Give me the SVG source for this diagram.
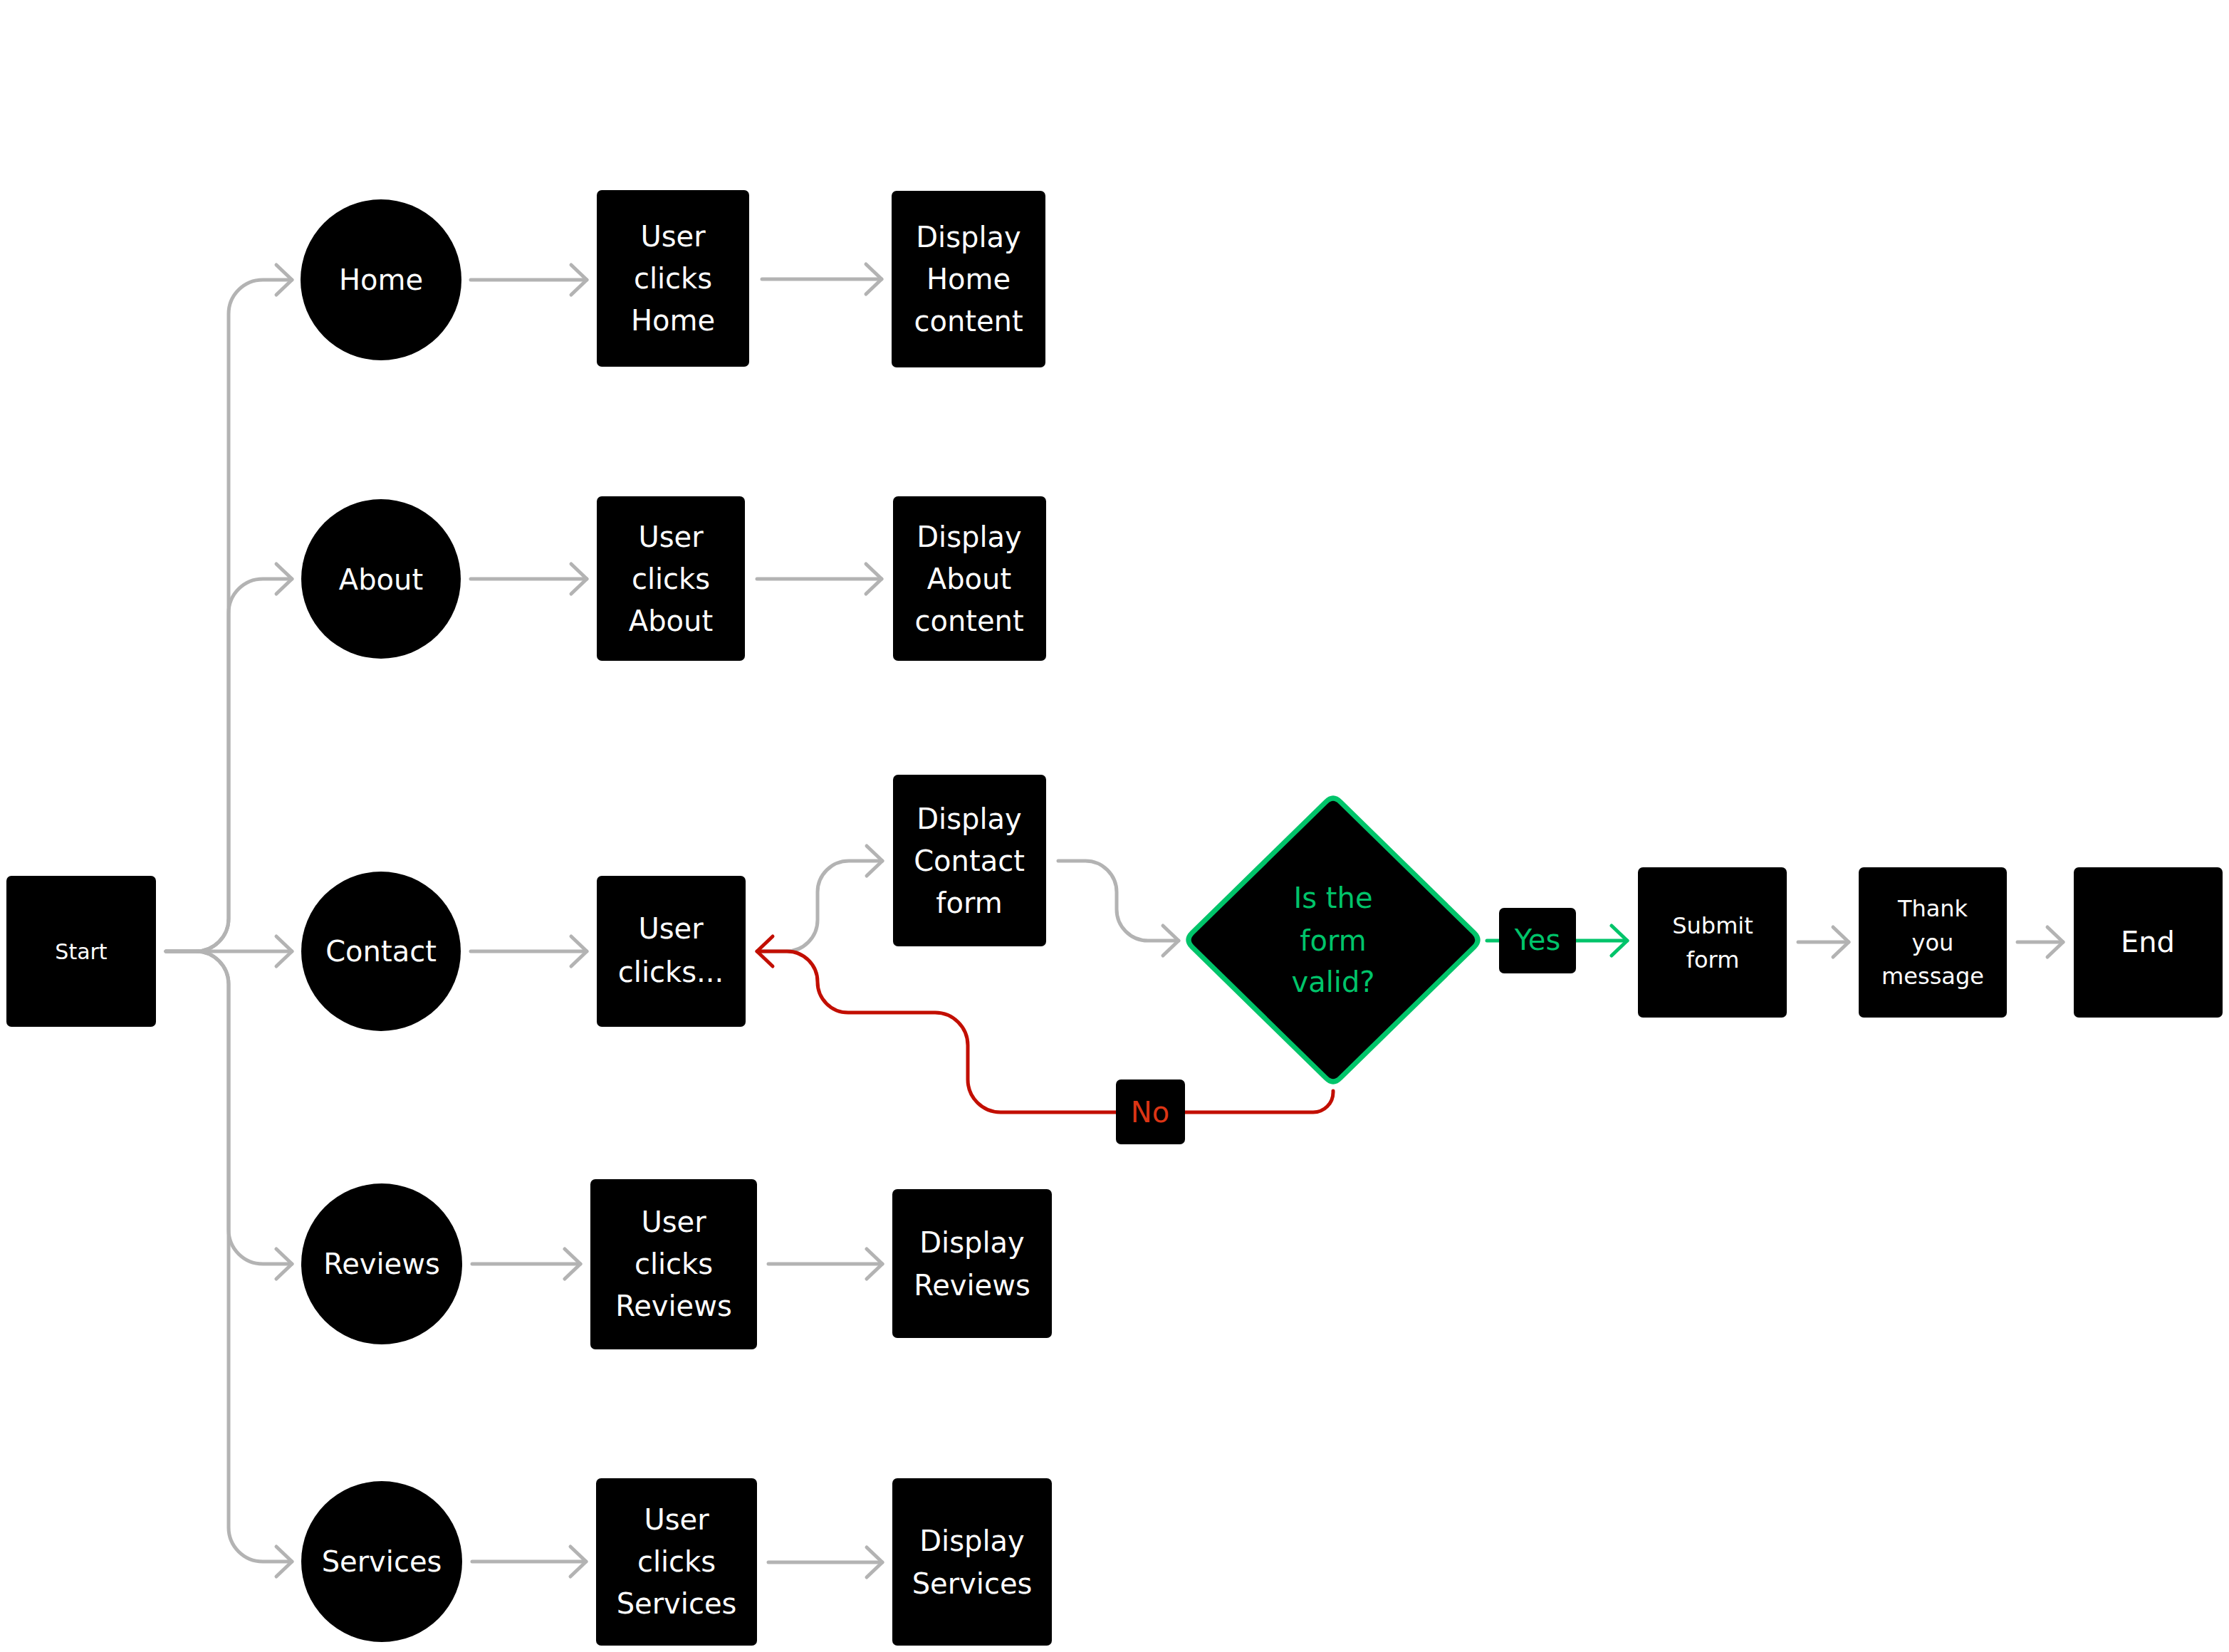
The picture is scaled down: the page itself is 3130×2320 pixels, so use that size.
<svg xmlns="http://www.w3.org/2000/svg" width="3130" height="2320" viewBox="0 0 3130 2320">
<style>
.bg{fill:#ffffff}
.n{fill:#000000}
.t{font-family:"DejaVu Sans","Liberation Sans",sans-serif;font-size:40px;fill:#ffffff;text-anchor:middle}
.s30{font-size:30px}
.s32{font-size:32px}
.g{fill:#00c46a}
.r{fill:#dc3515}
.cg{fill:none;stroke:#b3b3b3;stroke-width:5;stroke-linecap:round;stroke-linejoin:round}
.cr{fill:none;stroke:#c20e00;stroke-width:5;stroke-linecap:round;stroke-linejoin:round}
.cgr{fill:none;stroke:#00c46a;stroke-width:5;stroke-linecap:round;stroke-linejoin:round}
</style>
<defs>
<marker id="ag" viewBox="-27 -26 32 52" refX="0" refY="0" markerWidth="32" markerHeight="52" markerUnits="userSpaceOnUse" orient="auto">
<path d="M-22,-21 L0,0 L-22,21" fill="none" stroke="#b3b3b3" stroke-width="5" stroke-linecap="round" stroke-linejoin="round"/>
</marker>
<marker id="ar" viewBox="-27 -26 32 52" refX="0" refY="0" markerWidth="32" markerHeight="52" markerUnits="userSpaceOnUse" orient="auto">
<path d="M-22,-21 L0,0 L-22,21" fill="none" stroke="#c20e00" stroke-width="5" stroke-linecap="round" stroke-linejoin="round"/>
</marker>
<marker id="agr" viewBox="-27 -26 32 52" refX="0" refY="0" markerWidth="32" markerHeight="52" markerUnits="userSpaceOnUse" orient="auto">
<path d="M-22,-21 L0,0 L-22,21" fill="none" stroke="#00c46a" stroke-width="5" stroke-linecap="round" stroke-linejoin="round"/>
</marker>
</defs>
<rect class="bg" x="0" y="0" width="3130" height="2320"/>

<g id="connectors">
<path class="cg" marker-end="url(#ag)" d="M233,1336 H275 A46,46 0 0 0 321,1290 V441 A48,48 0 0 1 369,393 H410"/>
<path class="cg" marker-end="url(#ag)" d="M233,1336 H275 A46,46 0 0 0 321,1290 V861 A48,48 0 0 1 369,813 H410"/>
<path class="cg" marker-end="url(#ag)" d="M233,1336 H410"/>
<path class="cg" marker-end="url(#ag)" d="M233,1336 H275 A46,46 0 0 1 321,1382 V1727 A48,48 0 0 0 369,1775 H410"/>
<path class="cg" marker-end="url(#ag)" d="M233,1336 H275 A46,46 0 0 1 321,1382 V2145 A48,48 0 0 0 369,2193 H410"/>

<path class="cg" marker-end="url(#ag)" d="M661,393 H824"/>
<path class="cg" marker-end="url(#ag)" d="M1070,392 H1238"/>
<path class="cg" marker-end="url(#ag)" d="M661,813 H824"/>
<path class="cg" marker-end="url(#ag)" d="M1063,813 H1238"/>
<path class="cg" marker-end="url(#ag)" d="M661,1336 H824"/>
<path class="cg" marker-end="url(#ag)" d="M663,1775 H815"/>
<path class="cg" marker-end="url(#ag)" d="M1079,1775 H1239"/>
<path class="cg" marker-end="url(#ag)" d="M663,2193 H823"/>
<path class="cg" marker-end="url(#ag)" d="M1079,2194 H1239"/>

<path class="cg" marker-end="url(#ag)" d="M1063,1336 H1104 A44,44 0 0 0 1148,1292 V1253 A44,44 0 0 1 1192,1209 H1239"/>
<path class="cg" marker-end="url(#ag)" d="M1486,1209 H1524 A44,44 0 0 1 1568,1253 V1277 A44,44 0 0 0 1612,1321 H1655"/>

<path class="cr" marker-end="url(#ar)" d="M1872,1532 V1534 A28,28 0 0 1 1844,1562 H1405 A46,46 0 0 1 1359,1516 V1468 A46,46 0 0 0 1313,1422 H1191 A43,43 0 0 1 1148,1379 A43,43 0 0 0 1105,1336 H1063"/>

<path class="cgr" marker-end="url(#agr)" d="M2088,1321 H2285"/>
<path class="cg" marker-end="url(#ag)" d="M2525,1323 H2596"/>
<path class="cg" marker-end="url(#ag)" d="M2833,1323 H2897"/>
</g>

<g id="start">
<rect class="n" x="9" y="1230" width="210" height="212" rx="7"/>
<text class="t s30" x="114" y="1347">Start</text>
</g>

<g id="home">
<circle class="n" cx="535" cy="393" r="113"/>
<text class="t" x="535" y="407">Home</text>
</g>
<g id="about">
<circle class="n" cx="535" cy="813" r="112"/>
<text class="t" x="535" y="828">About</text>
</g>
<g id="contact">
<circle class="n" cx="535" cy="1336" r="112"/>
<text class="t" x="535" y="1350">Contact</text>
</g>
<g id="reviews">
<circle class="n" cx="536" cy="1775" r="113"/>
<text class="t" x="536" y="1789">Reviews</text>
</g>
<g id="services">
<circle class="n" cx="536" cy="2193" r="113"/>
<text class="t" x="536" y="2207">Services</text>
</g>

<g id="user-clicks-home">
<rect class="n" x="838" y="267" width="214" height="248" rx="7"/>
<text class="t" x="945" y="346">User</text>
<text class="t" x="945" y="405">clicks</text>
<text class="t" x="945" y="464">Home</text>
</g>
<g id="display-home">
<rect class="n" x="1252" y="268" width="216" height="248" rx="7"/>
<text class="t" x="1360" y="347">Display</text>
<text class="t" x="1360" y="406">Home</text>
<text class="t" x="1360" y="465">content</text>
</g>

<g id="user-clicks-about">
<rect class="n" x="838" y="697" width="208" height="231" rx="7"/>
<text class="t" x="942" y="768">User</text>
<text class="t" x="942" y="827">clicks</text>
<text class="t" x="942" y="886">About</text>
</g>
<g id="display-about">
<rect class="n" x="1254" y="697" width="215" height="231" rx="7"/>
<text class="t" x="1361" y="768">Display</text>
<text class="t" x="1361" y="827">About</text>
<text class="t" x="1361" y="886">content</text>
</g>

<g id="user-clicks-contact">
<rect class="n" x="838" y="1230" width="209" height="212" rx="7"/>
<text class="t" x="942" y="1318">User</text>
<text class="t" x="942" y="1379">clicks...</text>
</g>
<g id="display-contact">
<rect class="n" x="1254" y="1088" width="215" height="241" rx="7"/>
<text class="t" x="1361" y="1164">Display</text>
<text class="t" x="1361" y="1223">Contact</text>
<text class="t" x="1361" y="1282">form</text>
</g>

<g id="decision">
<path class="n" stroke="#00c46a" stroke-width="7" stroke-linejoin="round" d="M1862,1126 Q1872,1116 1882,1126 L2070,1310 Q2080,1320 2070,1330 L1882,1514 Q1872,1524 1862,1514 L1674,1330 Q1664,1320 1674,1310 Z"/>
<text class="t g" x="1872" y="1275">Is the</text>
<text class="t g" x="1872" y="1335">form</text>
<text class="t g" x="1872" y="1393">valid?</text>
</g>

<g id="submit">
<rect class="n" x="2300" y="1218" width="209" height="211" rx="7"/>
<text class="t s32" x="2405" y="1311">Submit</text>
<text class="t s32" x="2405" y="1359">form</text>
</g>
<g id="thank-you">
<rect class="n" x="2610" y="1218" width="208" height="211" rx="7"/>
<text class="t s32" x="2714" y="1287">Thank</text>
<text class="t s32" x="2714" y="1335">you</text>
<text class="t s32" x="2714" y="1382">message</text>
</g>
<g id="end">
<rect class="n" x="2912" y="1218" width="209" height="211" rx="7"/>
<text class="t" x="3016" y="1337">End</text>
</g>

<g id="user-clicks-reviews">
<rect class="n" x="829" y="1656" width="234" height="239" rx="7"/>
<text class="t" x="946" y="1730">User</text>
<text class="t" x="946" y="1789">clicks</text>
<text class="t" x="946" y="1848">Reviews</text>
</g>
<g id="display-reviews">
<rect class="n" x="1253" y="1670" width="224" height="209" rx="7"/>
<text class="t" x="1365" y="1759">Display</text>
<text class="t" x="1365" y="1819">Reviews</text>
</g>

<g id="user-clicks-services">
<rect class="n" x="837" y="2076" width="226" height="235" rx="7"/>
<text class="t" x="950" y="2148">User</text>
<text class="t" x="950" y="2207">clicks</text>
<text class="t" x="950" y="2266">Services</text>
</g>
<g id="display-services">
<rect class="n" x="1253" y="2076" width="224" height="235" rx="7"/>
<text class="t" x="1365" y="2178">Display</text>
<text class="t" x="1365" y="2238">Services</text>
</g>

<g id="label-yes">
<rect class="n" x="2105" y="1275" width="108" height="92" rx="7"/>
<text class="t g" x="2159" y="1334">Yes</text>
</g>
<g id="label-no">
<rect class="n" x="1567" y="1516" width="97" height="91" rx="7"/>
<text class="t r" x="1615" y="1576">No</text>
</g>
</svg>
